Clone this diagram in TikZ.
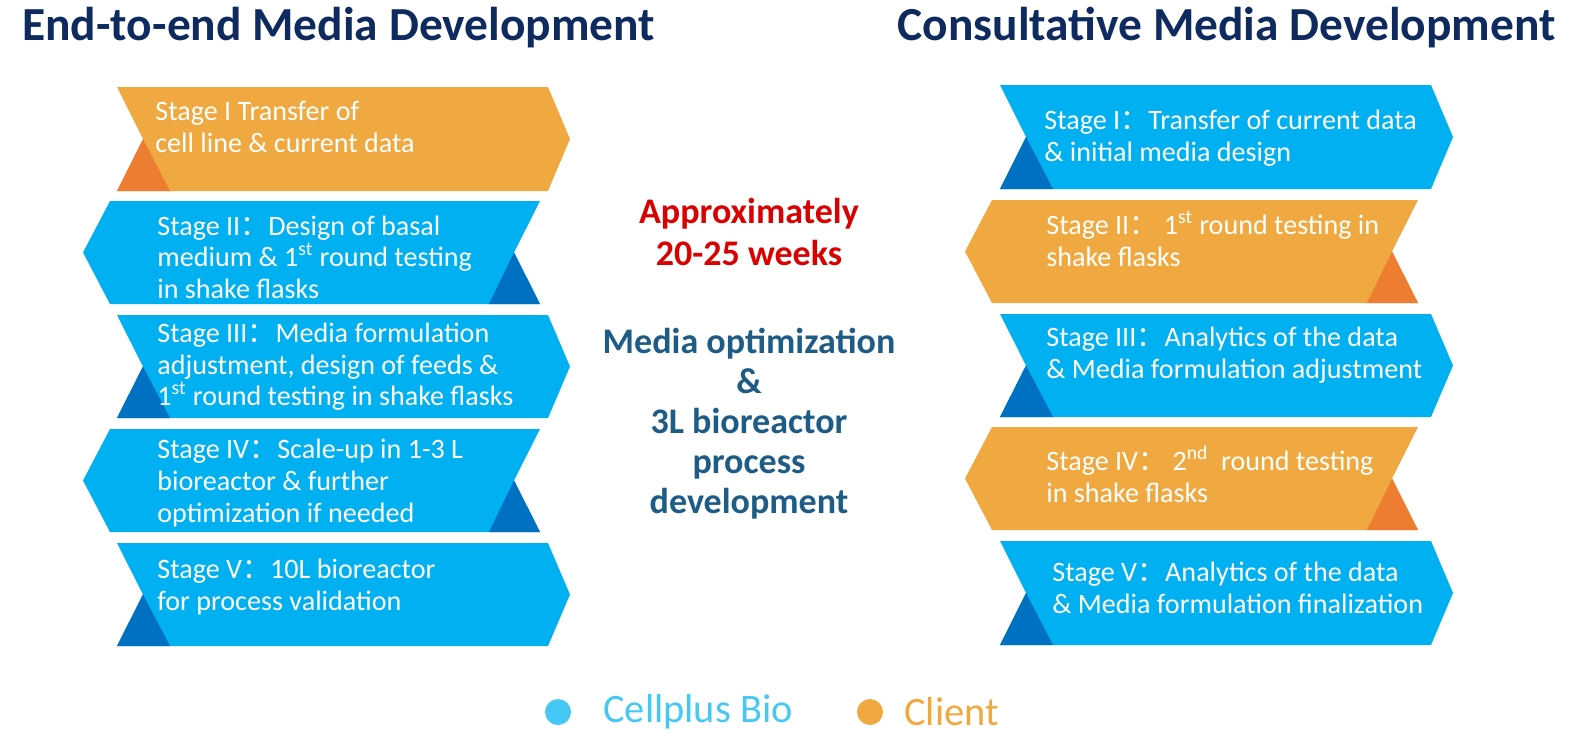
\documentclass[tikz,border=0pt]{standalone}
\usepackage{fontspec}
\setmainfont{Carlito}
\newfontfamily\cjk{Noto Sans CJK SC}
\newcommand{\fc}{{\cjk ：}}
\definecolor{cblue}{HTML}{00B0F0}
\definecolor{dblue}{HTML}{0070C0}
\definecolor{corg}{HTML}{F0A941}
\definecolor{dorg}{HTML}{ED7D31}
\definecolor{navy}{HTML}{0E2A5E}
\definecolor{teal}{HTML}{1D5C86}
\definecolor{lblue}{HTML}{45C8F5}
\begin{document}
\begin{tikzpicture}[x=0.02cm,y=-0.02cm,
  txt/.style={text=white,font=\fontsize{16}{18}\selectfont,align=left,anchor=west,inner sep=0pt},
  ttl/.style={text=navy,font=\fontsize{27}{31}\selectfont\bfseries,inner sep=0pt}]
\useasboundingbox (0,0) rectangle (1585,754);
\newcommand{\rch}[6]{%
  \fill[#5] (#1,#3) -- (#2,#3) -- (#2+22,{(#3+#4)/2}) -- (#2,#4) -- (#1,#4) -- (#1+26,{(#3+#4)/2}) -- cycle;
  \fill[#6] (#1+26,{(#3+#4)/2}) -- (#1+53,#4) -- (#1,#4) -- cycle;}
\newcommand{\lch}[6]{%
  \fill[#5] (#1,#3) -- (#2,#3) -- (#2-26,{(#3+#4)/2}) -- (#2,#4) -- (#1,#4) -- (#1-27,{(#3+#4)/2}) -- cycle;
  \fill[#6] (#2-26,{(#3+#4)/2}) -- (#2,#4) -- (#2-51,#4) -- cycle;}
\node[ttl,anchor=west] (t1) at (22,28) {End-to-end Media Development};
\node[ttl,anchor=east] (t2) at (1556,28) {Consultative Media Development};
% left column
\rch{117}{548}{87}{191}{corg}{dorg}
\node[txt] (l1) at (155,127) {Stage I Transfer of\\cell line \& current data};
\lch{110}{540}{201}{304}{cblue}{dblue}
\node[txt] (l2) at (157,257) {Stage II\fc Design of basal\\medium \& 1\textsuperscript{st} round testing\\in shake flasks};
\rch{117}{548}{315}{418}{cblue}{dblue}
\node[txt] (l3) at (157,367) {Stage III\fc Media formulation\\adjustment, design of feeds \&\\1\textsuperscript{st} round testing in shake flasks};
\lch{110}{540}{429}{532}{cblue}{dblue}
\node[txt] (l4) at (157,483) {Stage IV\fc Scale-up in 1-3 L\\bioreactor \& further\\optimization if needed};
\rch{117}{548}{543}{646}{cblue}{dblue}
\node[txt] (l5) at (157,587) {Stage V\fc 10L bioreactor\\for process validation};
% right column
\rch{1000}{1431}{85}{189}{cblue}{dblue}
\node[txt] (r1) at (1044,138) {Stage I\fc Transfer of current data\\\& initial media design};
\lch{992}{1418}{200}{303}{corg}{dorg}
\node[txt] (r2) at (1046,239) {Stage II\fc\ 1\textsuperscript{st} round testing in\\shake flasks};
\rch{1000}{1431}{314}{417}{cblue}{dblue}
\node[txt] (r3) at (1046,355) {Stage III\fc Analytics of the data\\\& Media formulation adjustment};
\lch{992}{1418}{427}{530}{corg}{dorg}
\node[txt] (r4) at (1046,474) {Stage IV\fc\ 2\textsuperscript{nd}\ \ round testing\\in shake flasks};
\rch{1000}{1431}{541}{645}{cblue}{dblue}
\node[txt] (r5) at (1052,588) {Stage V\fc Analytics of the data\\\& Media formulation finalization};
% middle
\node[text=red!85!black,font=\fontsize{20.5}{24}\selectfont\bfseries,align=center] (m1) at (749,232) {Approximately\\20-25 weeks};
\node[text=teal,font=\fontsize{20.5}{22.8}\selectfont\bfseries,align=center] (m2) at (749,424) {Media optimization\\\&\\3L bioreactor\\process\\development};
% legend
\fill[lblue] (558,712) circle (13) coordinate (c1);
\node[text=lblue,font=\fontsize{23}{26}\selectfont,anchor=west,inner sep=0pt] (g1) at (603,712) {Cellplus Bio};
\fill[corg] (870,712) circle (13) coordinate (c2);
\node[text=corg,font=\fontsize{23}{26}\selectfont,anchor=west,inner sep=0pt] (g2) at (904,712) {Client};
\end{tikzpicture}
\end{document}
